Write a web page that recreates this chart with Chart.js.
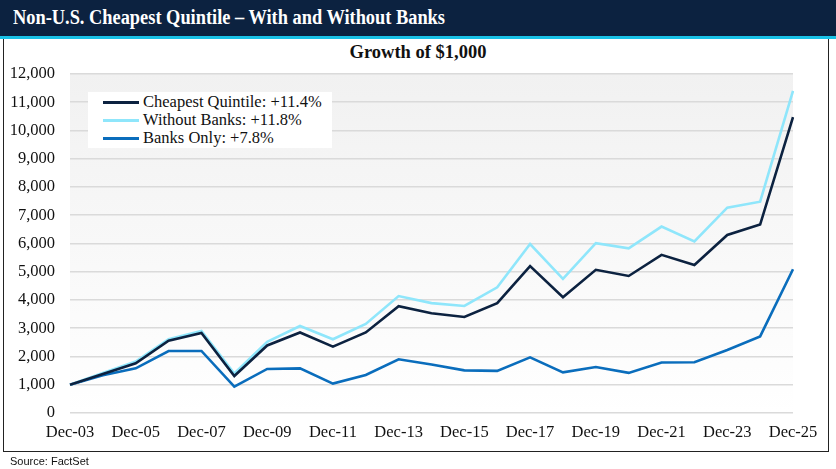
<!DOCTYPE html>
<html>
<head>
<meta charset="utf-8">
<script src="https://cdn.jsdelivr.net/npm/chart.js@4.4.1/dist/chart.umd.min.js"></script>
<style>
  html, body { margin: 0; padding: 0; background: #fff; }
  body { width: 836px; height: 469px; position: relative; overflow: hidden; }
  #bar { position: absolute; left: 0; top: 0; width: 836px; height: 36px; background: #0c2240; }
  #bar span { position: absolute; left: 13px; top: 6px; color: #fff; font: bold 20.5px "Liberation Serif", serif; white-space: nowrap; transform-origin: 0 50%; }
  #cyan { position: absolute; left: 0; top: 36px; width: 836px; height: 3px; background: #19c1e6; }
  #frame { position: absolute; left: 3px; top: 39px; width: 826px; height: 413px; border: 1.5px solid #222; border-top: none; box-sizing: border-box; }
  #sub { position: absolute; left: 0; width: 836px; top: 42px; text-align: center; font: bold 18.5px "Liberation Serif", serif; color: #111; }
  #wrap { position: absolute; left: 0; top: 0; width: 836px; height: 469px; }
  #legend { position: absolute; left: 88px; top: 92px; width: 244px; height: 56px; background: #fff; font: 16.5px "Liberation Serif", serif; color: #111; }
  .li { position: absolute; left: 15px; height: 18px; line-height: 18px; white-space: nowrap; }
  .li i { display: inline-block; width: 36px; height: 3px; vertical-align: middle; margin-right: 4px; position: relative; top: -1px; }
  #src { position: absolute; left: 10px; top: 455px; font: 11px "Liberation Sans", Arial, sans-serif; color: #111; }
</style>
</head>
<body>
<div id="bar"><span id="ttl">Non-U.S. Cheapest Quintile – With and Without Banks</span></div>
<div id="cyan"></div>
<div id="frame"></div>
<div id="sub">Growth of $1,000</div>
<div id="wrap"><canvas id="c" width="836" height="469"></canvas></div>
<div id="legend">
  <div class="li" style="top:1px"><i style="background:#0c2240"></i>Cheapest Quintile: +11.4%</div>
  <div class="li" style="top:19px"><i style="background:#8fe6fb"></i>Without Banks: +11.8%</div>
  <div class="li" style="top:37px"><i style="background:#0a6dbc"></i>Banks Only: +7.8%</div>
</div>
<div id="src">Source: FactSet</div>
<script>
const categories = ["Dec-03","Dec-04","Dec-05","Dec-06","Dec-07","Dec-08","Dec-09","Dec-10","Dec-11","Dec-12","Dec-13","Dec-14","Dec-15","Dec-16","Dec-17","Dec-18","Dec-19","Dec-20","Dec-21","Dec-22","Dec-23","Dec-24","Dec-25"];
const cheapestQuintile = [1000,1380,1760,2560,2830,1310,2390,2850,2350,2850,3780,3530,3400,3890,5200,4100,5070,4850,5600,5240,6300,6670,10470];
const withoutBanks = [1000,1420,1820,2610,2900,1400,2520,3080,2610,3150,4140,3890,3790,4450,5980,4750,6010,5830,6600,6070,7270,7480,11400];
const banksOnly = [1000,1340,1580,2195,2195,930,1560,1580,1040,1345,1900,1720,1510,1490,1970,1440,1630,1420,1790,1795,2230,2710,5090];
const yTicks = [0,1000,2000,3000,4000,5000,6000,7000,8000,9000,10000,11000,12000];

(function fitTitle() {
  const t = document.getElementById('ttl');
  const w = t.getBoundingClientRect().width;
  t.style.transform = 'scaleX(' + (432 / w) + ')';
})();

const bgPlugin = {
  id: 'bg',
  beforeDraw(chart) {
    const {ctx, chartArea: a} = chart;
    const g = ctx.createLinearGradient(0, a.top, 0, a.bottom);
    g.addColorStop(0, '#f1f1f1');
    g.addColorStop(1, '#ffffff');
    ctx.save();
    ctx.fillStyle = g;
    ctx.fillRect(a.left, a.top, a.right - a.left, a.bottom - a.top);
    ctx.restore();
  }
};

new Chart(document.getElementById('c'), {
  type: 'line',
  data: {
    labels: categories,
    datasets: [
      { label: 'Banks Only: +7.8%', data: banksOnly, borderColor: '#0a6dbc', borderWidth: 2.6, pointRadius: 0, tension: 0, order: 3 },
      { label: 'Without Banks: +11.8%', data: withoutBanks, borderColor: '#8fe6fb', borderWidth: 2.6, pointRadius: 0, tension: 0, order: 2 },
      { label: 'Cheapest Quintile: +11.4%', data: cheapestQuintile, borderColor: '#0c2240', borderWidth: 2.6, pointRadius: 0, tension: 0, order: 1 }
    ]
  },
  options: {
    responsive: false,
    animation: false,
    devicePixelRatio: 1,
    layout: { padding: { left: 0, top: 74, right: 43, bottom: 0 } },
    plugins: { legend: { display: false }, tooltip: { enabled: false }, title: { display: false } },
    scales: {
      x: {
        offset: false,
        grid: { display: false, drawTicks: false },
        border: { display: false },
        afterFit(s) { s.height = 56; },
        ticks: {
          autoSkip: false, maxRotation: 0, minRotation: 0, padding: 10,
          color: '#111', font: { family: 'Liberation Serif', size: 16.5 },
          callback(v, i) { return i % 2 === 0 ? categories[i] : ''; }
        }
      },
      y: {
        min: 0, max: 12000,
        afterBuildTicks(s) { s.ticks = yTicks.map(v => ({ value: v })); },
        afterFit(s) { s.width = 70; },
        grid: { color: '#dadada', lineWidth: 1.6, drawTicks: false },
        border: { display: false },
        ticks: {
          padding: 15, color: '#111', font: { family: 'Liberation Serif', size: 16.5 },
          callback(v) { return v.toLocaleString('en-US'); }
        }
      }
    }
  },
  plugins: [bgPlugin]
});
</script>
</body>
</html>
